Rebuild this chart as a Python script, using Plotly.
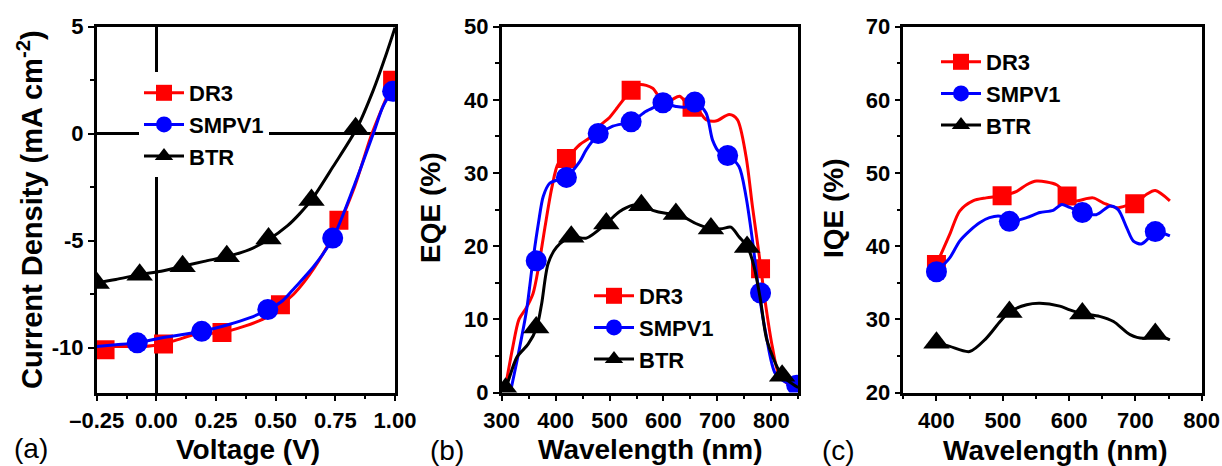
import plotly.graph_objects as go

# ---------------- Panel (a): J-V ----------------
a_dr3_v = [-0.25, -0.17, -0.06, 0.03, 0.09, 0.16, 0.27, 0.37, 0.47, 0.53, 0.58, 0.66, 0.76, 0.83, 0.90, 0.95, 1.00]
a_dr3_j = [-10.0, -9.95, -9.95, -9.83, -9.63, -9.39, -9.30, -9.00, -8.54, -7.95, -7.45, -6.30, -4.35, -2.50, -0.10, 1.30, 2.60]
a_dr3_mv = [-0.215, 0.03, 0.275, 0.52, 0.765, 0.99]
a_dr3_mj = [-10.1, -9.83, -9.30, -8.00, -4.05, 2.50]

a_smp_v = [-0.25, -0.17, -0.08, 0.02, 0.11, 0.19, 0.30, 0.39, 0.47, 0.53, 0.58, 0.66, 0.74, 0.83, 0.91, 0.95, 1.00]
a_smp_j = [-9.95, -9.87, -9.78, -9.55, -9.39, -9.24, -8.93, -8.61, -8.22, -7.80, -7.20, -6.20, -4.88, -2.40, 0.03, 1.28, 2.20]
a_smp_mv = [-0.08, 0.19, 0.467, 0.739, 0.99]
a_smp_mj = [-9.78, -9.24, -8.22, -4.88, 1.98]

a_btr_v = [-0.25, -0.17, -0.07, 0.02, 0.11, 0.20, 0.30, 0.39, 0.47, 0.55, 0.60, 0.65, 0.74, 0.84, 0.91, 0.965, 1.00]
a_btr_j = [-6.98, -6.82, -6.59, -6.43, -6.20, -5.97, -5.73, -5.42, -4.95, -4.30, -3.75, -3.10, -1.55, 0.25, 2.06, 3.77, 4.95]
a_btr_mv = [-0.25, -0.07, 0.11, 0.295, 0.47, 0.65, 0.835]
a_btr_mj = [-6.98, -6.59, -6.20, -5.73, -4.90, -3.10, 0.25]

a_xticks = [-0.25, 0.0, 0.25, 0.5, 0.75, 1.0]
a_xticktext = ["\u20130.25", "0.00", "0.25", "0.50", "0.75", "1.00"]
a_yticks = [-10, -5, 0, 5]
a_yticktext = ["-10", "-5", "0", "5"]

# ---------------- Panel (b): EQE ----------------
b_dr3_x = [309, 320, 332, 345, 358, 368, 380, 393, 405, 420, 445, 463, 481, 500, 512, 540, 556, 580, 600, 615, 630, 648, 665, 679, 697, 722, 737, 753, 765, 777, 790, 802, 814, 839, 850]
b_dr3_y = [1.6, 6.0, 10.0, 11.5, 13.5, 17.0, 22.5, 28.0, 31.3, 32.0, 33.9, 34.8, 36.4, 37.6, 38.7, 41.3, 42.1, 41.6, 39.6, 40.0, 40.5, 39.1, 38.5, 37.3, 37.1, 38.0, 37.3, 32.3, 25.4, 19.0, 11.7, 6.2, 2.5, 0.7, 0.5]
b_dr3_mx = [420, 540, 653, 780]
b_dr3_my = [32.0, 41.3, 39.0, 16.9]

b_smp_x = [318, 331, 346, 358, 368, 377, 389, 420, 445, 457, 479, 506, 540, 567, 586, 599, 623, 640, 658, 679, 691, 703, 719, 740, 753, 765, 777, 790, 808, 833, 850]
b_smp_y = [0.7, 5.3, 11.2, 18.1, 23.1, 26.8, 28.6, 29.5, 31.6, 33.2, 35.2, 36.4, 37.0, 38.4, 39.1, 39.6, 39.1, 39.0, 39.8, 38.2, 34.5, 32.9, 32.5, 30.9, 26.8, 20.8, 13.7, 8.0, 2.5, 1.2, 1.0]
b_smp_mx = [364, 420, 479, 540, 599, 658, 719, 780, 847]
b_smp_my = [18.0, 29.4, 35.4, 37.0, 39.6, 39.7, 32.4, 13.6, 1.0]

b_btr_x = [305, 309, 328, 349, 365, 374, 386, 402, 429, 457, 494, 518, 543, 560, 580, 604, 623, 640, 660, 688, 709, 725, 740, 756, 768, 780, 792, 820, 845, 850]
b_btr_y = [0.3, 0.9, 4.8, 6.6, 8.9, 12.1, 17.6, 19.9, 21.3, 21.1, 23.1, 24.7, 25.6, 25.6, 24.9, 24.5, 24.4, 23.9, 23.1, 22.4, 22.4, 22.6, 21.3, 19.9, 17.2, 12.6, 7.1, 2.3, 0.9, 0.7]
b_btr_mx = [307, 364, 429, 494, 559, 623, 688, 755, 820]
b_btr_my = [0.5, 8.9, 21.3, 23.1, 25.6, 24.4, 22.4, 19.9, 2.3]

# ---------------- Panel (c): IQE ----------------
c_dr3_x = [400, 420, 435, 455, 475, 499, 521, 536, 551, 581, 596, 606, 636, 652, 672, 692, 699, 717, 730, 752]
c_dr3_y = [37.5, 41.6, 44.8, 46.2, 46.6, 46.9, 47.5, 48.4, 48.9, 48.4, 47.1, 46.2, 46.6, 45.9, 45.25, 45.7, 45.8, 47.1, 47.6, 46.2]
c_dr3_mx = [400, 499, 597, 699]
c_dr3_my = [37.5, 46.9, 46.85, 45.8]

c_smp_x = [400, 420, 435, 450, 465, 480, 496, 510, 536, 556, 576, 589, 601, 620, 641, 662, 674, 687, 697, 709, 720, 730, 752]
c_smp_y = [36.5, 38.4, 40.7, 42.1, 43.2, 43.9, 44.1, 43.4, 43.9, 44.6, 44.9, 45.7, 45.3, 44.6, 44.3, 45.5, 45.0, 42.5, 40.7, 40.3, 41.1, 42.0, 41.4]
c_smp_mx = [400, 510, 620, 730]
c_smp_my = [36.5, 43.4, 44.6, 42.0]

c_btr_x = [400, 420, 450, 475, 496, 510, 536, 556, 586, 601, 620, 646, 667, 692, 712, 730, 752]
c_btr_y = [26.8, 26.3, 25.6, 27.4, 29.7, 31.0, 32.0, 32.2, 31.8, 31.3, 30.8, 30.4, 29.7, 27.9, 27.4, 27.9, 27.2]
c_btr_mx = [400, 510, 620, 730]
c_btr_my = [26.8, 31.0, 30.8, 28.0]

series_names = ["DR3", "SMPV1", "BTR"]
series_colors = ["#FF0000", "#0000FF", "#000000"]
series_symbols = ["square", "circle", "triangle-up"]
series_msizes = [19, 21, 23]

FONT = "Liberation Sans, Arial, sans-serif"

fig = go.Figure()

panels = [
    ("x", "y", "legend",
     [(a_dr3_v, a_dr3_j, a_dr3_mv, a_dr3_mj), (a_smp_v, a_smp_j, a_smp_mv, a_smp_mj), (a_btr_v, a_btr_j, a_btr_mv, a_btr_mj)]),
    ("x2", "y2", "legend2",
     [(b_dr3_x, b_dr3_y, b_dr3_mx, b_dr3_my), (b_smp_x, b_smp_y, b_smp_mx, b_smp_my), (b_btr_x, b_btr_y, b_btr_mx, b_btr_my)]),
    ("x3", "y3", "legend3",
     [(c_dr3_x, c_dr3_y, c_dr3_mx, c_dr3_my), (c_smp_x, c_smp_y, c_smp_mx, c_smp_my), (c_btr_x, c_btr_y, c_btr_mx, c_btr_my)]),
]

for xa, ya, lg, data in panels:
    for i, (lx, ly, mx, my) in enumerate(data):
        col = series_colors[i]
        fig.add_trace(go.Scatter(x=lx, y=ly, xaxis=xa, yaxis=ya, mode="lines",
                                 line=dict(color=col, width=3, shape="spline", smoothing=0.8),
                                 showlegend=False, hoverinfo="skip"))
        fig.add_trace(go.Scatter(x=mx, y=my, xaxis=xa, yaxis=ya, mode="markers",
                                 marker=dict(color=col, symbol=series_symbols[i], size=series_msizes[i],
                                             line=dict(width=0)),
                                 showlegend=False, hoverinfo="skip"))
    for i in range(3):
        fig.add_trace(go.Scatter(x=[None], y=[None], xaxis=xa, yaxis=ya, mode="lines+markers",
                                 name=series_names[i], legend=lg,
                                 line=dict(color=series_colors[i], width=3),
                                 marker=dict(color=series_colors[i], symbol=series_symbols[i],
                                             size=series_msizes[i], line=dict(width=0))))

tickfont = dict(family=FONT, size=22, color="black", weight="bold")
common = dict(showline=True, linecolor="black", linewidth=2.5, mirror=True,
              ticks="outside", ticklen=6, tickwidth=2, tickcolor="black",
              showgrid=False, tickfont=tickfont, automargin=False)
minor = dict(ticks="outside", ticklen=3.5, tickwidth=2, tickcolor="black", showgrid=False)

ydom = [1 - 392.5 / 466, 1 - 26.7 / 466]

fig.update_layout(
    width=1222, height=466, autosize=False,
    margin=dict(l=0, r=0, t=0, b=0, pad=0, autoexpand=False),
    paper_bgcolor="white", plot_bgcolor="white",
    font=dict(family=FONT, color="black"),
    xaxis=dict(domain=[96.7 / 1222, 395 / 1222], range=[-0.25, 1.0], anchor="y",
               tickmode="array", tickvals=a_xticks, ticktext=a_xticktext,
               minor=dict(tickmode="array", tickvals=[-0.125, 0.125, 0.375, 0.625, 0.875], **minor),
               zeroline=True, zerolinecolor="black", zerolinewidth=2.5, **common),
    yaxis=dict(domain=ydom, range=[-12.1, 5], anchor="x",
               tickmode="array", tickvals=a_yticks, ticktext=a_yticktext,
               minor=dict(tickmode="array", tickvals=[-7.5, -2.5, 2.5], **minor),
               zeroline=True, zerolinecolor="black", zerolinewidth=2.5, **common),
    xaxis2=dict(domain=[501.7 / 1222, 798.3 / 1222], range=[300, 850], anchor="y2",
                dtick=100, tick0=300, minor=dict(dtick=50, **minor), zeroline=False, **common),
    yaxis2=dict(domain=ydom, range=[0, 50], anchor="x2",
                dtick=10, tick0=0, minor=dict(dtick=5, **minor), zeroline=False, **common),
    xaxis3=dict(domain=[903.3 / 1222, 1201.7 / 1222], range=[350, 800], anchor="y3",
                tickmode="array", tickvals=[400, 500, 600, 700, 800],
                minor=dict(tickmode="array", tickvals=[350, 450, 550, 650, 750], **minor),
                zeroline=False, **common),
    yaxis3=dict(domain=ydom, range=[20, 70], anchor="x3",
                dtick=10, tick0=20, minor=dict(dtick=5, **minor), zeroline=False, **common),
)

legfont = dict(family=FONT, size=22, color="black", weight="bold")
fig.update_layout(
    legend=dict(x=139 / 1222, y=1 - 72 / 466, xanchor="left", yanchor="top", font=legfont,
                bgcolor="white", borderwidth=0, tracegroupgap=0, itemwidth=40),
    legend2=dict(x=589 / 1222, y=1 - 275 / 466, xanchor="left", yanchor="top", font=legfont,
                 bgcolor="rgba(0,0,0,0)", borderwidth=0, tracegroupgap=0, itemwidth=40),
    legend3=dict(x=936 / 1222, y=1 - 41 / 466, xanchor="left", yanchor="top", font=legfont,
                 bgcolor="rgba(0,0,0,0)", borderwidth=0, tracegroupgap=0, itemwidth=40),
)

tfont = dict(family=FONT, size=28, color="black", weight="bold")
yfont = dict(family=FONT, size=29, color="black", weight="bold")
lfont = dict(family=FONT, size=28, color="black")

def ann(text, x, y, font, angle=0):
    fig.add_annotation(text=text, x=x / 1222, y=1 - y / 466, xref="paper", yref="paper",
                       xanchor="center", yanchor="middle", showarrow=False, font=font, textangle=angle)

ann("Voltage (V)", 248, 449, tfont)
ann("Wavelength (nm)", 650, 449, tfont)
ann("Wavelength (nm)", 1055, 450, tfont)
ann("Current Density (mA cm<sup>-2</sup>)", 30, 210, yfont, -90)
ann("EQE (%)", 430, 208, tfont, -90)
ann("IQE (%)", 833, 208, tfont, -90)
ann("(a)", 31, 448, lfont)
ann("(b)", 447, 450, lfont)
ann("(c)", 838, 450, lfont)

fig.write_html("out.html")
